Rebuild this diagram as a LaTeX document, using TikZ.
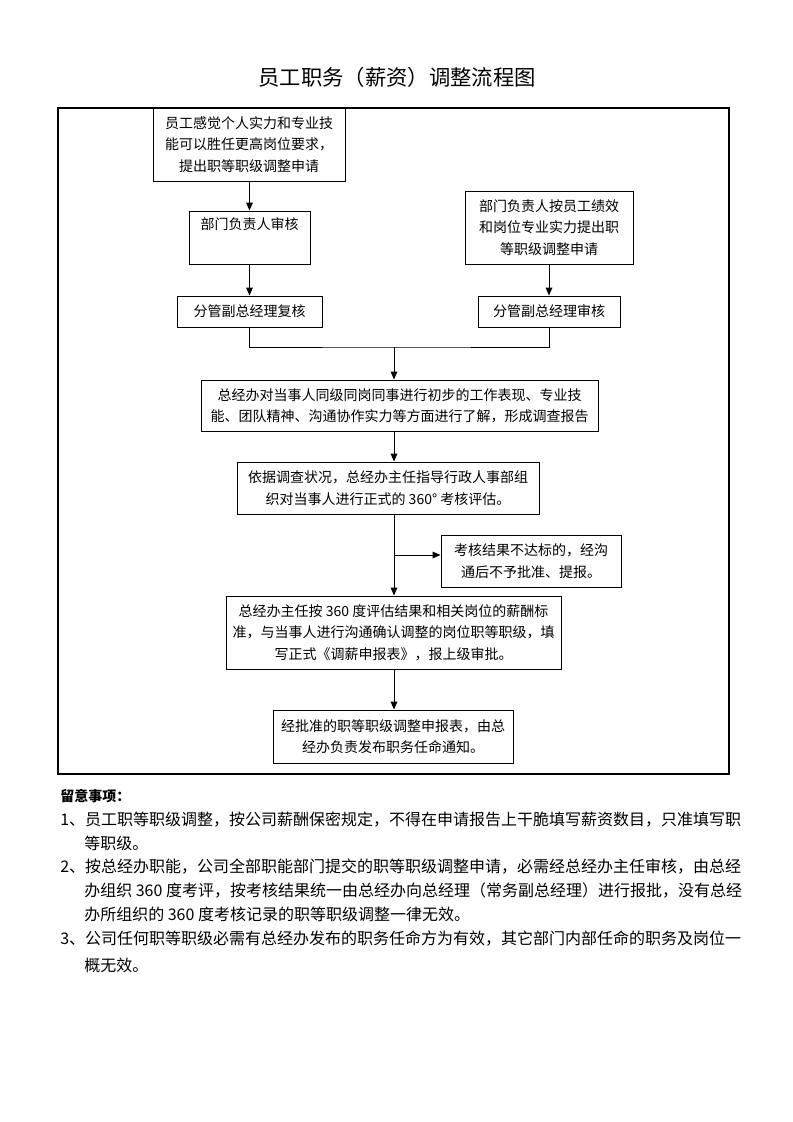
\documentclass[tikz,border=0pt]{standalone}
\usepackage{fontspec}
\setmainfont{Noto Sans CJK SC}
\usetikzlibrary{arrows.meta}
\begin{document}
\begin{tikzpicture}[x=0.75pt,y=-0.75pt,
  box/.style={draw,line width=0.75pt,align=center,inner sep=0pt,font=\fontsize{10.5}{16}\selectfont},
  arr/.style={line width=0.75pt,-{Triangle[length=6pt,width=5pt]}},
  ln/.style={line width=0.75pt},
  note/.style={anchor=west,inner sep=0pt,font=\fontsize{12}{16}\selectfont}]
\useasboundingbox (0,0) rectangle (793,1122);
\fill[white] (0,0) rectangle (793,1122);

\node[font=\fontsize{16}{20}\selectfont] (title) at (397,77) {员工职务（薪资）调整流程图};
\draw[line width=0.8pt] (58,108) rectangle (729,774);

\node[box,minimum width=144pt,minimum height=54.75pt] (b1) at (249,144.5)
  {员工感觉个人实力和专业技\\能可以胜任更高岗位要求，\\提出职等职级调整申请};
\node[box,minimum width=90.75pt,minimum height=39.75pt] (b2) at (249.5,237.5)
  {部门负责人审核\\\strut};
\node[box,minimum width=126pt,minimum height=54.75pt] (b3) at (549,227.5)
  {部门负责人按员工绩效\\和岗位专业实力提出职\\等职级调整申请};
\node[box,minimum width=108.75pt,minimum height=23.25pt] (b4) at (249.5,311.5)
  {分管副总经理复核};
\node[box,minimum width=106.5pt,minimum height=23.25pt] (b5) at (549,311.5)
  {分管副总经理审核};
\node[box,minimum width=297.75pt,minimum height=38.25pt] (b6) at (399.5,405.5)
  {总经办对当事人同级同岗同事进行初步的工作表现、专业技\\能、团队精神、沟通协作实力等方面进行了解，形成调查报告};
\node[box,minimum width=226.5pt,minimum height=39pt] (b7) at (388,488)
  {依据调查状况，总经办主任指导行政人事部组\\织对当事人进行正式的 360° 考核评估。};
\node[box,minimum width=135pt,minimum height=39pt] (b9) at (531,561)
  {考核结果不达标的，经沟\\通后不予批准、提报。};
\node[box,minimum width=251.25pt,minimum height=54.75pt] (b8) at (393.5,632.5)
  {总经办主任按 360 度评估结果和相关岗位的薪酬标\\准，与当事人进行沟通确认调整的岗位职等职级，填\\写正式《调薪申报表》，报上级审批。};
\node[box,minimum width=180pt,minimum height=39.75pt] (b10) at (393,736.5)
  {经批准的职等职级调整申报表，由总\\经办负责发布职务任命通知。};

\coordinate (merge) at (394,347);
\coordinate (br) at (394,555);

\draw[arr] (b1.south -| b2) -- (b2.north);
\draw[arr] (b2.south) -- (b4.north -| b2);
\draw[arr] (b3.south) -- (b5.north);
\draw[ln] (b4.south -| b2) |- (merge) -| (b5.south);
\draw[arr] (merge) -- (merge |- b6.north);
\draw[arr] (b6.south -| merge) -- (b7.north -| merge);
\draw[arr] (b7.south -| merge) -- (b8.north -| merge);
\draw[arr] (br) -- (b9.west |- br);
\draw[arr] (b8.south -| merge) -- (b10.north -| merge);

\node[anchor=west,inner sep=0pt,font=\fontsize{10.5}{14}\selectfont\bfseries] (nt) at (60,796) {留意事项：};
\node[note] (n1) at (60,820) {1、员工职等职级调整，按公司薪酬保密规定，不得在申请报告上干脆填写薪资数目，只准填写职};
\node[note] (n1b) at (84,843) {等职级。};
\node[note] (n2) at (60,867) {2、按总经办职能，公司全部职能部门提交的职等职级调整申请，必需经总经办主任审核，由总经};
\node[note] (n2b) at (84,890) {办组织 360 度考评，按考核结果统一由总经办向总经理（常务副总经理）进行报批，没有总经};
\node[note] (n2c) at (84,914) {办所组织的 360 度考核记录的职等职级调整一律无效。};
\node[note] (n3) at (60,939) {3、公司任何职等职级必需有总经办发布的职务任命方为有效，其它部门内部任命的职务及岗位一};
\node[note] (n3b) at (84,965) {概无效。};
\end{tikzpicture}
\end{document}
